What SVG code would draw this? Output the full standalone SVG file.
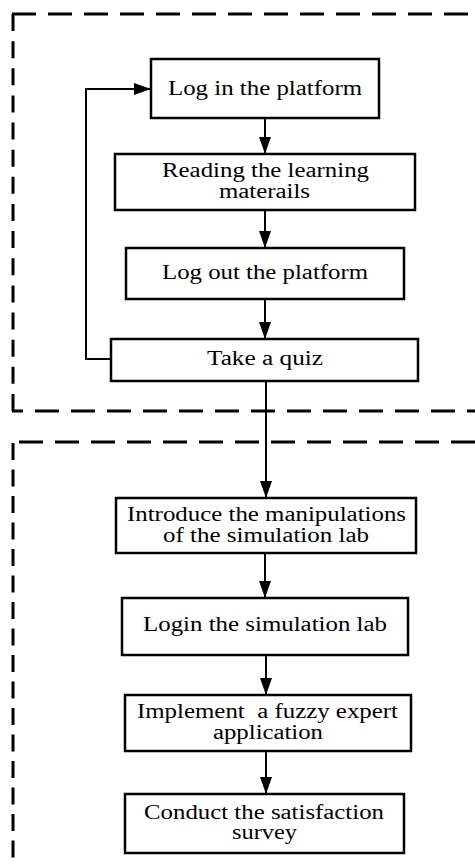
<svg xmlns="http://www.w3.org/2000/svg" width="475" height="867" viewBox="0 0 475 867">
<style>
.bg{fill:#fff}
.dh{stroke:#000;stroke-width:3;fill:none;stroke-dasharray:24 12}
.dv{stroke:#000;stroke-width:3;fill:none;stroke-dasharray:17 9.5}
.box{fill:#fff;stroke:#000;stroke-width:2.5}
.t{font-family:"Liberation Serif","Times New Roman",serif;font-size:20px;fill:#000;text-anchor:middle}
.c{stroke:#000;stroke-width:2;fill:none}
</style>
<defs>
<marker id="ah" markerUnits="userSpaceOnUse" markerWidth="17" markerHeight="12" refX="17" refY="6" orient="auto">
<path d="M0,0 L17,6 L0,12 Z" fill="#000"/>
</marker>
</defs>
<rect class="bg" x="0" y="0" width="475" height="867"/>
<g id="frames">
<line class="dh" x1="12" y1="14" x2="475" y2="14"/>
<line class="dv" x1="13" y1="14" x2="13" y2="411" style="stroke-dasharray:17 10.14"/>
<line class="dh" x1="12" y1="411" x2="475" y2="411" style="stroke-dashoffset:13"/>
<line class="dh" x1="19" y1="442" x2="475" y2="442"/>
<line class="dv" x1="13" y1="443" x2="13" y2="867"/>
</g>
<g id="connectors">
<line class="c" x1="265" y1="118" x2="265" y2="154" marker-end="url(#ah)"/>
<line class="c" x1="265" y1="210" x2="265" y2="248" marker-end="url(#ah)"/>
<line class="c" x1="265" y1="299" x2="265" y2="339" marker-end="url(#ah)"/>
<line class="c" x1="266" y1="381" x2="266" y2="498" marker-end="url(#ah)"/>
<line class="c" x1="265" y1="553" x2="265" y2="598" marker-end="url(#ah)"/>
<line class="c" x1="266" y1="655" x2="266" y2="695" marker-end="url(#ah)"/>
<line class="c" x1="266" y1="751" x2="266" y2="794" marker-end="url(#ah)"/>
<path class="c" d="M111,359 H86 V89 H151" marker-end="url(#ah)"/>
</g>
<g id="n1">
<rect class="box" x="151" y="59" width="228" height="59"/>
<text class="t" x="265" y="95" textLength="194" lengthAdjust="spacingAndGlyphs">Log in the platform</text>
</g>
<g id="n2">
<rect class="box" x="115" y="154" width="300" height="56"/>
<text class="t" x="265.5" y="177" textLength="207" lengthAdjust="spacingAndGlyphs">Reading the learning</text>
<text class="t" x="264.5" y="198" textLength="91" lengthAdjust="spacingAndGlyphs">materails</text>
</g>
<g id="n3">
<rect class="box" x="126" y="248" width="278" height="51"/>
<text class="t" x="265" y="279" textLength="206" lengthAdjust="spacingAndGlyphs">Log out the platform</text>
</g>
<g id="n4">
<rect class="box" x="111" y="339" width="307" height="42"/>
<text class="t" x="265" y="365" textLength="116" lengthAdjust="spacingAndGlyphs">Take a quiz</text>
</g>
<g id="n5">
<rect class="box" x="116" y="498" width="300" height="55"/>
<text class="t" x="266.5" y="521" textLength="279" lengthAdjust="spacingAndGlyphs">Introduce the manipulations</text>
<text class="t" x="266" y="542" textLength="206" lengthAdjust="spacingAndGlyphs">of the simulation lab</text>
</g>
<g id="n6">
<rect class="box" x="122" y="598" width="286" height="57"/>
<text class="t" x="265" y="631" textLength="244" lengthAdjust="spacingAndGlyphs">Login the simulation lab</text>
</g>
<g id="n7">
<rect class="box" x="125" y="695" width="286" height="56"/>
<text class="t" x="267.5" y="718" textLength="261" lengthAdjust="spacingAndGlyphs" xml:space="preserve">Implement  a fuzzy expert</text>
<text class="t" x="268" y="739" textLength="110" lengthAdjust="spacingAndGlyphs">application</text>
</g>
<g id="n8">
<rect class="box" x="125" y="794" width="279" height="59"/>
<text class="t" x="264" y="819" textLength="240" lengthAdjust="spacingAndGlyphs">Conduct the satisfaction</text>
<text class="t" x="264.5" y="839" textLength="65" lengthAdjust="spacingAndGlyphs">survey</text>
</g>
</svg>
